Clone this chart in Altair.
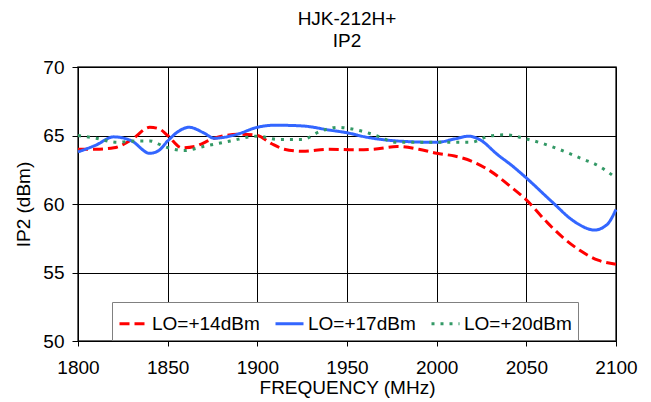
import altair as alt
import pandas as pd

# LO=+14dBm
freq_14 = [1800, 1810, 1820, 1830, 1840, 1845, 1850, 1858, 1865, 1876, 1890, 1900, 1908, 1915, 1925,
           1940, 1955, 1965, 1978, 1990, 2000, 2010, 2020, 2030, 2040, 2050, 2062, 2070, 2080, 2090, 2100]
ip2_14 = [64.0, 64.0, 64.1, 64.7, 65.6, 65.5, 65.0, 64.1, 64.2, 64.8, 65.1, 65.0, 64.4, 64.0, 63.85,
          64.0, 63.95, 64.0, 64.2, 64.0, 63.7, 63.5, 63.1, 62.4, 61.4, 60.3, 58.6, 57.6, 56.6, 55.9, 55.6]

# LO=+17dBm
freq_17 = [1800, 1810, 1820, 1830, 1840, 1845, 1850, 1856, 1862, 1870, 1876, 1889, 1900, 1910, 1925,
           1940, 1950, 1960, 1978, 2000, 2010, 2018, 2024, 2034, 2042, 2050, 2064, 2077, 2088, 2095, 2100]
ip2_17 = [63.8, 64.3, 64.9, 64.6, 63.7, 63.9, 64.6, 65.3, 65.6, 65.2, 64.8, 65.1, 65.6, 65.75, 65.7,
          65.4, 65.2, 64.9, 64.6, 64.5, 64.75, 64.95, 64.7, 63.6, 62.8, 61.9, 60.2, 58.7, 58.1, 58.5, 59.6]

# LO=+20dBm
freq_20 = [1800, 1810, 1822, 1832, 1840, 1848, 1859, 1870, 1885, 1900, 1912, 1925, 1935, 1945, 1952,
           1964, 1978, 2000, 2019, 2029, 2038, 2050, 2064, 2081, 2090, 2098, 2100]
ip2_20 = [65.0, 64.8, 64.5, 64.6, 64.6, 64.2, 63.9, 64.2, 64.6, 64.95, 64.7, 64.7, 65.3, 65.6, 65.5,
          65.1, 64.5, 64.5, 64.5, 64.95, 65.05, 64.75, 64.2, 63.3, 62.8, 62.1, 61.9]

series_names = ["LO=+14dBm", "LO=+17dBm", "LO=+20dBm"]
series_colors = ["#FF0000", "#3366FF", "#339966"]
series_dashes = [[10, 5], [1, 0], [3, 6]]

x_ticks = [1800, 1850, 1900, 1950, 2000, 2050, 2100]
y_ticks = [50, 55, 60, 65, 70]

rows = []
for name, fs, vs in zip(series_names, [freq_14, freq_17, freq_20], [ip2_14, ip2_17, ip2_20]):
    for f, v in zip(fs, vs):
        rows.append({"series": name, "freq": f, "ip2": v})
df = pd.DataFrame(rows)

FONT = "Liberation Sans"
FS = 19


def make_legend():
    return alt.Legend(title=None, orient="none", legendX=34, legendY=235,
                      direction="horizontal", symbolType="stroke",
                      symbolSize=784, symbolStrokeWidth=3,
                      labelFontSize=FS, labelFont=FONT, labelLimit=300, labelColor="black",
                      labelOffset=3, columnPadding=9, padding=6,
                      strokeColor="#808080", fillColor="white")


chart = alt.Chart(df).mark_line(interpolate="monotone", strokeWidth=3).encode(
    x=alt.X("freq:Q",
            scale=alt.Scale(domain=[1800, 2100], nice=False, zero=False),
            axis=alt.Axis(values=x_ticks, title="FREQUENCY (MHz)", format="d",
                          tickSize=5, labelPadding=12, titlePadding=1, labelFlush=False)),
    y=alt.Y("ip2:Q",
            scale=alt.Scale(domain=[50, 70], nice=False, zero=False),
            axis=alt.Axis(values=y_ticks, title="IP2 (dBm)",
                          tickSize=6, labelPadding=8, titlePadding=9, labelFlush=False)),
    color=alt.Color("series:N",
                    scale=alt.Scale(domain=series_names, range=series_colors),
                    legend=make_legend()),
    strokeDash=alt.StrokeDash("series:N",
                              scale=alt.Scale(domain=series_names, range=series_dashes),
                              legend=make_legend()),
    order=alt.Order("freq:Q"),
).properties(
    width=538, height=274,
    autosize=alt.AutoSizeParams(type="none"),
    padding={"left": 70, "top": 59, "right": 27, "bottom": 60},
    title=alt.Title(["HJK-212H+", "IP2"], anchor="middle", fontSize=FS, font=FONT,
                    fontWeight="normal", lineHeight=22, offset=7, color="black"),
).configure_axis(
    labelFont=FONT, titleFont=FONT, labelFontSize=FS, titleFontSize=FS,
    titleFontWeight="normal", labelColor="black", titleColor="black",
    domainColor="black", tickColor="black", gridColor="black", gridOpacity=1,
    grid=True, gridWidth=1,
).configure_view(
    stroke="#333333", strokeWidth=1.5,
)

chart.save("out.html", embed_options={"renderer": "svg", "actions": False})
